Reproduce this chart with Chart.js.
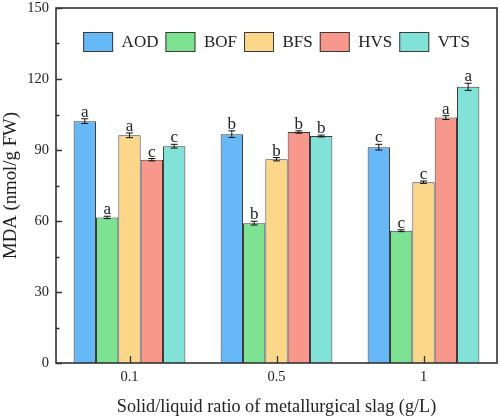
<!DOCTYPE html>
<html>
<head>
<meta charset="utf-8">
<script src="https://cdn.jsdelivr.net/npm/chart.js@4.4.1/dist/chart.umd.min.js"></script>
<style>
  html, body { margin: 0; padding: 0; background: #fff; }
  #wrap { width: 500px; height: 418px; }
</style>
</head>
<body>
<div id="wrap"><canvas id="chart"></canvas></div>
<script>
var categories = ["0.1", "0.5", "1"];
var seriesNames = ["AOD", "BOF", "BFS", "HVS", "VTS"];

var aod = [102.2, 96.7, 91.2];
var bof = [61.5, 59.1, 55.9];
var bfs = [96.2, 86.1, 76.4];
var hvs = [85.9, 97.6, 103.7];
var vts = [91.6, 95.9, 116.7];

var aodErr = [1.0, 1.4, 1.2];
var bofErr = [0.5, 0.8, 0.4];
var bfsErr = [1.0, 0.7, 0.5];
var hvsErr = [0.5, 0.5, 0.8];
var vtsErr = [0.8, 0.4, 1.5];

var aodSig = ["a", "b", "c"];
var bofSig = ["a", "b", "c"];
var bfsSig = ["a", "b", "c"];
var hvsSig = ["c", "b", "a"];
var vtsSig = ["c", "b", "a"];

var yTicks = [0, 30, 60, 90, 120, 150];

var colors = ["#66b8f6", "#7de393", "#fcd689", "#f8978c", "#82e2d8"];
var fontFamily = "'Liberation Serif', 'Times New Roman', serif";
var inkColor = "#222";

var values = [aod, bof, bfs, hvs, vts];
var errs = [aodErr, bofErr, bfsErr, hvsErr, vtsErr];
var sigs = [aodSig, bofSig, bfsSig, hvsSig, vtsSig];

var datasets = seriesNames.map(function (name, i) {
  return {
    label: name,
    data: values[i],
    errors: errs[i],
    letters: sigs[i],
    backgroundColor: colors[i],
    borderColor: "#3a3a3a",
    borderWidth: 1,
    categoryPercentage: 0.76,
    barPercentage: 1.0
  };
});

// error bars, letters, inward ticks, the box frame and a one-row legend inside the frame
var extras = {
  id: "extras",
  afterDatasetsDraw: function (chart) {
    var ctx = chart.ctx;
    var y = chart.scales.y;
    var x = chart.scales.x;
    var area = chart.chartArea;
    ctx.save();

    chart.data.datasets.forEach(function (ds, di) {
      var meta = chart.getDatasetMeta(di);
      meta.data.forEach(function (bar, j) {
        var v = ds.data[j], e = ds.errors[j];
        var top = y.getPixelForValue(v + e);
        var bot = y.getPixelForValue(v - e);
        ctx.strokeStyle = "#111";
        ctx.lineWidth = 1;
        ctx.beginPath();
        ctx.moveTo(bar.x, top); ctx.lineTo(bar.x, bot);
        ctx.moveTo(bar.x - 3.5, top); ctx.lineTo(bar.x + 3.5, top);
        ctx.moveTo(bar.x - 3.5, bot); ctx.lineTo(bar.x + 3.5, bot);
        ctx.stroke();

        ctx.fillStyle = inkColor;
        ctx.font = "17px " + fontFamily;
        ctx.textAlign = "center";
        ctx.textBaseline = "alphabetic";
        ctx.fillText(ds.letters[j], bar.x, top - 2);
      });
    });

    ctx.strokeStyle = "#333";
    ctx.lineWidth = 1.3;
    ctx.beginPath();
    for (var t = 0; t <= 150; t += 15) {
      var py = Math.round(y.getPixelForValue(t)) + 0.5;
      var len = (t % 30 === 0) ? 6 : 3.5;
      ctx.moveTo(area.left, py); ctx.lineTo(area.left + len, py);
    }
    categories.forEach(function (c, i) {
      var px = Math.round(x.getPixelForValue(i)) + 0.5;
      ctx.moveTo(px, area.bottom); ctx.lineTo(px, area.bottom - 7);
    });
    ctx.stroke();

    ctx.lineWidth = 1.6;
    ctx.strokeRect(area.left, area.top, area.right - area.left, area.bottom - area.top);

    // legend
    var boxW = 30, boxH = 20, gap = 8.5, pad = 7;
    ctx.font = "17px " + fontFamily;
    var widths = chart.data.datasets.map(function (ds) {
      return boxW + gap + ctx.measureText(ds.label).width;
    });
    var total = widths.reduce(function (a, b) { return a + b; }, 0) + pad * (widths.length - 1);
    var lx = (area.left + area.right) / 2 - total / 2;
    var ly = area.top + 24;
    chart.data.datasets.forEach(function (ds, i) {
      ctx.fillStyle = ds.backgroundColor;
      ctx.fillRect(lx, ly, boxW, boxH);
      ctx.strokeStyle = ds.borderColor;
      ctx.lineWidth = 1;
      ctx.strokeRect(lx + 0.5, ly + 0.5, boxW - 1, boxH - 1);
      ctx.fillStyle = inkColor;
      ctx.textAlign = "left";
      ctx.textBaseline = "middle";
      ctx.fillText(ds.label, lx + boxW + gap, ly + boxH / 2 + 1);
      lx += widths[i] + pad;
    });
    ctx.restore();
  }
};

new Chart(document.getElementById("chart"), {
  type: "bar",
  data: { labels: categories, datasets: datasets },
  options: {
    responsive: true,
    maintainAspectRatio: false,
    animation: false,
    devicePixelRatio: 1,
    layout: { padding: { top: 8, right: 3, left: 0, bottom: 0 } },
    plugins: {
      tooltip: { enabled: false },
      legend: { display: false }
    },
    scales: {
      x: {
        grid: { display: false, drawTicks: false },
        border: { display: false },
        ticks: { color: inkColor, padding: 5, font: { family: fontFamily, size: 14.5 } },
        title: {
          display: true,
          text: "Solid/liquid ratio of metallurgical slag (g/L)",
          color: inkColor,
          padding: { top: 0, bottom: 0 },
          font: { family: fontFamily, size: 18.2 }
        },
        afterFit: function (s) { s.height = 55; s.paddingLeft = 0; s.paddingRight = 0; }
      },
      y: {
        min: 0,
        max: 150,
        afterBuildTicks: function (s) { s.ticks = yTicks.map(function (v) { return { value: v }; }); },
        grid: { display: false, drawTicks: false },
        border: { display: false },
        ticks: { color: inkColor, padding: 7, font: { family: fontFamily, size: 14.5 } },
        title: {
          display: true,
          text: "MDA (nmol/g FW)",
          color: inkColor,
          padding: { top: 0, bottom: 0 },
          font: { family: fontFamily, size: 18.8 }
        },
        afterFit: function (s) { s.width = 56; s.paddingTop = 0; s.paddingBottom = 0; }
      }
    }
  },
  plugins: [extras]
});
</script>
</body>
</html>
